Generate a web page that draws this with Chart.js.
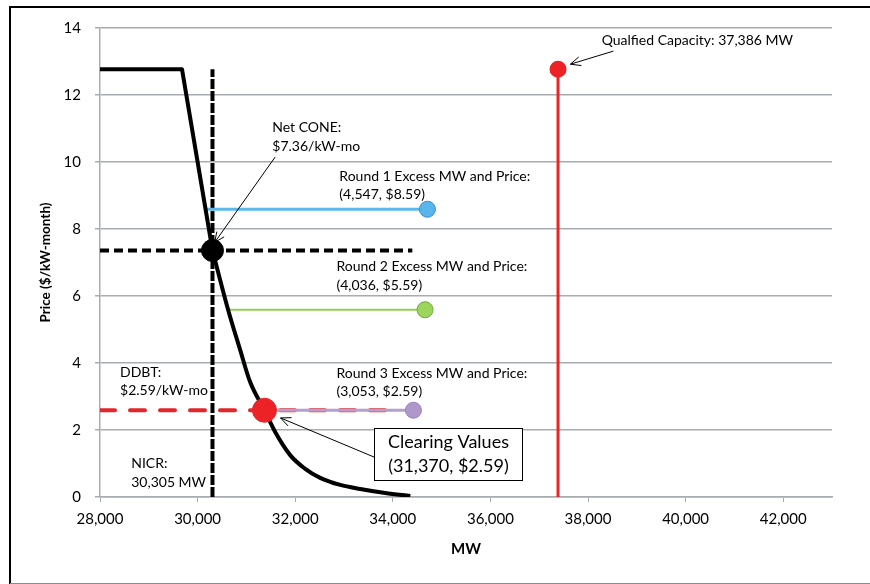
<!DOCTYPE html>
<html>
<head>
<meta charset="utf-8">
<script src="https://cdn.jsdelivr.net/npm/chart.js@4.4.1/dist/chart.umd.min.js"></script>
<style>
  html, body { margin: 0; padding: 0; background: #ffffff; }
  #wrap { position: relative; width: 870px; height: 584px; }
</style>
</head>
<body>
<div id="wrap"><canvas id="chart" width="870" height="584"></canvas></div>
<script>
const FONT = 'Lato, "Liberation Sans", sans-serif';

// Demand curve: price-cap plateau and steep segment down to Net CONE
const capMW = [28000, 29680, 30305];
const capPrice = [12.77, 12.77, 7.36];
// Convex tail of the demand curve below Net CONE
const tailMW = [30305, 30625, 30872, 31077, 31370, 31590, 31897, 32205, 32512, 32923, 33333, 33846, 34359];
const tailPrice = [7.36, 5.59, 4.39, 3.43, 2.59, 1.94, 1.25, 0.84, 0.57, 0.36, 0.24, 0.12, 0.03];

// Reference quantities
const nicrMW = 30305;
const netConePrice = 7.36;
const ddbtPrice = 2.59;
const clearingMW = 31370;
const clearingPrice = 2.59;
const qualifiedMW = 37386;
const qualifiedTopPrice = 12.77;
const netConeLineEndMW = 34400;
const ddbtLineEndMW = 34100;

// Auction rounds: price, excess MW, and where each round meets the curve
const roundNames = ['Round 1', 'Round 2', 'Round 3'];
const roundPrice = [8.59, 5.59, 2.59];
const roundExcessMW = [4547, 4036, 3053];
const roundStartMW = [30163, 30625, 31370];
const roundLine = ['#5bb8e8', '#92d050', '#b49fcf'];
const roundFill = ['#5ab6ea', '#9dd55c', '#ad97cb'];
const roundEdge = ['#2f93cf', '#6ea93a', '#9a82bb'];

// Axis range and tick labels
const xMin = 28000, xMax = 43000;
const xTickValues = [28000, 30000, 32000, 34000, 36000, 38000, 40000, 42000];
const yMin = 0, yMax = 14, yStep = 2;

const fmt = v => v.toLocaleString('en-US');
const pts = (xs, ys) => xs.map((x, i) => ({ x: x, y: ys[i] }));

const GRID = '#a7acb0';

const datasets = [];

// Round excess lines, drawn above the dashed reference lines
roundNames.forEach((name, i) => {
  datasets.push({
    label: name,
    data: [{ x: roundStartMW[i], y: roundPrice[i] }, { x: roundStartMW[i] + roundExcessMW[i], y: roundPrice[i] }],
    showLine: true,
    borderColor: roundLine[i],
    borderWidth: i === 1 ? 2 : 3,
    pointRadius: [0, 8],
    pointBackgroundColor: roundFill[i],
    pointBorderColor: roundEdge[i],
    pointBorderWidth: 1,
    order: 3
  });
});

datasets.push(
  {
    label: 'Clearing',
    data: [{ x: clearingMW, y: clearingPrice }],
    pointRadius: 12,
    pointBackgroundColor: '#ec2227',
    pointBorderColor: '#ec2227',
    order: 1
  },
  {
    label: 'Net CONE point',
    data: [{ x: nicrMW, y: netConePrice }],
    pointRadius: 11,
    pointBackgroundColor: '#000',
    pointBorderColor: '#000',
    order: 1
  },
  {
    label: 'Demand curve (cap)',
    data: pts(capMW, capPrice),
    showLine: true,
    borderColor: '#000',
    borderWidth: 4,
    pointRadius: 0,
    borderJoinStyle: 'round',
    order: 2
  },
  {
    label: 'Demand curve',
    data: pts(tailMW, tailPrice),
    showLine: true,
    cubicInterpolationMode: 'monotone',
    borderColor: '#000',
    borderWidth: 4,
    pointRadius: 0,
    order: 2
  },
  {
    label: 'NICR',
    data: [{ x: nicrMW, y: 0 }, { x: nicrMW, y: qualifiedTopPrice }],
    showLine: true,
    borderColor: '#000',
    borderWidth: 4,
    borderDash: [10, 2],
    pointRadius: 0,
    order: 4
  },
  {
    label: 'Net CONE',
    data: [{ x: xMin, y: netConePrice }, { x: netConeLineEndMW, y: netConePrice }],
    showLine: true,
    borderColor: '#000',
    borderWidth: 4,
    borderDash: [9, 5],
    pointRadius: 0,
    order: 4
  },
  {
    label: 'DDBT',
    data: [{ x: xMin, y: ddbtPrice }, { x: ddbtLineEndMW, y: ddbtPrice }],
    showLine: true,
    borderColor: '#e4262b',
    borderWidth: 4,
    borderDash: [15, 15],
    borderCapStyle: 'round',
    pointRadius: 0,
    order: 5
  },
  {
    label: 'Qualified Capacity',
    data: [{ x: qualifiedMW, y: 0 }, { x: qualifiedMW, y: qualifiedTopPrice }],
    showLine: true,
    borderColor: '#ec2227',
    borderWidth: 3,
    pointRadius: [0, 7],
    pointBackgroundColor: '#ec2227',
    pointBorderColor: '#ec2227',
    order: 4
  }
);

// Frame around the figure
const framePlugin = {
  id: 'frame',
  beforeDraw(chart) {
    const ctx = chart.ctx;
    ctx.save();
    ctx.fillStyle = '#fff';
    ctx.fillRect(0, 0, chart.width, chart.height);
    ctx.strokeStyle = '#000';
    ctx.lineWidth = 2;
    ctx.beginPath();
    ctx.moveTo(10, 584);
    ctx.lineTo(10, 7);
    ctx.lineTo(870, 7);
    ctx.stroke();
    ctx.strokeStyle = '#8c8c8c';
    ctx.lineWidth = 1;
    ctx.beginPath();
    ctx.moveTo(10, 583.5);
    ctx.lineTo(870, 583.5);
    ctx.stroke();
    ctx.restore();
  }
};

function arrow(ctx, x1, y1, x2, y2) {
  const a = Math.atan2(y2 - y1, x2 - x1);
  const L = 11, s = 0.42;
  ctx.beginPath();
  ctx.moveTo(x1, y1);
  ctx.lineTo(x2, y2);
  ctx.moveTo(x2 - L * Math.cos(a - s), y2 - L * Math.sin(a - s));
  ctx.lineTo(x2, y2);
  ctx.lineTo(x2 - L * Math.cos(a + s), y2 - L * Math.sin(a + s));
  ctx.stroke();
}

// Text callouts, arrows and the clearing-values box
const calloutPlugin = {
  id: 'callouts',
  afterDatasetsDraw(chart) {
    const ctx = chart.ctx;
    const X = v => chart.scales.x.getPixelForValue(v);
    const Y = v => chart.scales.y.getPixelForValue(v);
    ctx.save();
    ctx.fillStyle = '#000';
    ctx.strokeStyle = '#000';
    ctx.lineWidth = 1;
    ctx.textBaseline = 'middle';
    ctx.textAlign = 'left';
    ctx.font = '14px ' + FONT;

    const lines = (mw, price, arr) => {
      arr.forEach((t, i) => ctx.fillText(t, X(mw), Y(price) + i * 18.5));
    };

    lines(31530, 11.02, ['Net CONE:', '$' + netConePrice.toFixed(2) + '/kW-mo']);
    arrow(ctx, X(31590), Y(10.15), X(30350), Y(7.6));

    const roundLabelAt = [[32905, 9.58], [32845, 6.87], [32845, 3.70]];
    roundNames.forEach((n, i) => {
      lines(roundLabelAt[i][0], roundLabelAt[i][1],
        [n + ' Excess MW and Price:', '(' + fmt(roundExcessMW[i]) + ', $' + roundPrice[i].toFixed(2) + ')']);
    });

    lines(28410, 3.73, ['DDBT:', '$' + ddbtPrice.toFixed(2) + '/kW-mo']);
    lines(28640, 0.99, ['NICR:', fmt(nicrMW) + ' MW']);

    ctx.fillText('Qualfied Capacity: ' + fmt(qualifiedMW) + ' MW', X(38280), Y(13.64));
    arrow(ctx, X(38520), Y(13.31), X(37640), Y(12.92));

    // Clearing values box
    const bx = X(33620), by = Y(2.07), bw = X(36660) - bx, bh = Y(0.52) - by;
    ctx.fillStyle = '#fff';
    ctx.fillRect(bx, by, bw, bh);
    ctx.strokeRect(Math.round(bx) + 0.5, Math.round(by) + 0.5, Math.round(bw), Math.round(bh));
    ctx.fillStyle = '#000';
    ctx.font = '18px ' + FONT;
    ctx.textAlign = 'center';
    ctx.fillText('Clearing Values', bx + bw / 2, by + 15);
    ctx.fillText('(' + fmt(clearingMW) + ', $' + clearingPrice.toFixed(2) + ')', bx + bw / 2, by + 39);
    arrow(ctx, bx, Y(1.19), X(31700), Y(2.36));
    ctx.restore();
  }
};

new Chart(document.getElementById('chart'), {
  type: 'scatter',
  data: { datasets: datasets },
  options: {
    responsive: false,
    animation: false,
    layout: { padding: { top: 28, right: 38, left: 0, bottom: 0 } },
    plugins: { legend: { display: false }, tooltip: { enabled: false } },
    scales: {
      x: {
        type: 'linear',
        min: xMin,
        max: xMax,
        afterFit: s => { s.height = 87; },
        afterBuildTicks: s => { s.ticks = xTickValues.map(v => ({ value: v })); },
        ticks: {
          autoSkip: false,
          color: '#000',
          padding: 8,
          font: { family: FONT, size: 15 },
          callback: v => fmt(v)
        },
        grid: { drawOnChartArea: false, drawTicks: true, tickLength: 5, color: GRID, lineWidth: 1 },
        border: { color: GRID, width: 1.5 },
        title: {
          display: true,
          text: 'MW',
          color: '#000',
          font: { family: FONT, size: 15, weight: 'bold' },
          padding: { top: 0, bottom: 26 }
        }
      },
      y: {
        type: 'linear',
        min: yMin,
        max: yMax,
        afterFit: s => { s.width = 100; },
        ticks: {
          stepSize: yStep,
          color: '#000',
          padding: 14,
          font: { family: FONT, size: 15 }
        },
        grid: { color: GRID, lineWidth: 1.5, tickLength: 5 },
        border: { color: GRID, width: 1.5 },
        title: {
          display: true,
          text: 'Price ($/kW-month)',
          color: '#000',
          font: { family: FONT, size: 13.5, weight: 'bold' },
          padding: { top: 38, bottom: 0 }
        }
      }
    }
  },
  plugins: [framePlugin, calloutPlugin]
});
</script>
</body>
</html>
